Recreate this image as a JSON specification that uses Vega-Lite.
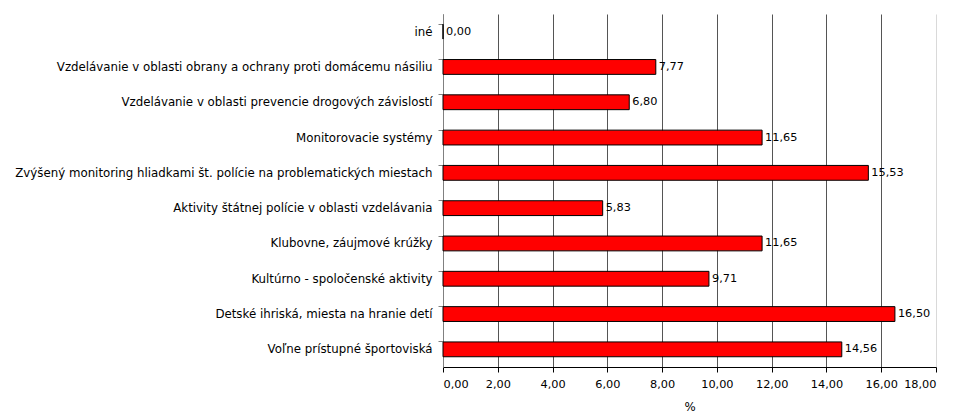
{
  "$schema": "https://vega.github.io/schema/vega-lite/v6.json",
  "width": 493,
  "height": 353,
  "autosize": {"type": "none"},
  "padding": {"left": 443, "top": 14, "right": 18, "bottom": 48},
  "background": "white",
  "config": {
    "view": {"stroke": null},
    "locale": {"number": {"decimal": ",", "thousands": " ", "grouping": [3], "currency": ["", " €"]}},
    "font": "DejaVu Sans"
  },
  "data": {
    "values": [
      {"kategoria": "iné", "hodnota": 0.00},
      {"kategoria": "Vzdelávanie v oblasti obrany a ochrany proti domácemu násiliu", "hodnota": 7.77},
      {"kategoria": "Vzdelávanie v oblasti prevencie drogových závislostí", "hodnota": 6.80},
      {"kategoria": "Monitorovacie systémy", "hodnota": 11.65},
      {"kategoria": "Zvýšený monitoring hliadkami št. polície na problematických miestach ", "hodnota": 15.53},
      {"kategoria": "Aktivity štátnej polície v oblasti vzdelávania", "hodnota": 5.83},
      {"kategoria": "Klubovne, záujmové krúžky", "hodnota": 11.65},
      {"kategoria": "Kultúrno - spoločenské aktivity", "hodnota": 9.71},
      {"kategoria": "Detské ihriská, miesta na hranie detí", "hodnota": 16.50},
      {"kategoria": "Voľne prístupné športoviská", "hodnota": 14.56}
    ]
  },
  "encoding": {
    "y": {
      "field": "kategoria",
      "type": "nominal",
      "sort": null,
      "scale": {"paddingInner": 0.58, "paddingOuter": 0.29},
      "axis": {
        "title": null,
        "labelFont": "DejaVu Sans",
        "labelFontSize": 11.8,
        "labelColor": "black",
        "labelPadding": 6,
        "labelLimit": 440,
        "domainColor": "#808080",
        "tickColor": "#808080",
        "tickSize": 5,
        "bandPosition": 0
      }
    },
    "x": {
      "field": "hodnota",
      "type": "quantitative",
      "scale": {"domain": [0, 18], "nice": false},
      "axis": {
        "title": "%",
        "titleFont": "DejaVu Sans",
        "titleFontSize": 11.8,
        "titleFontWeight": "normal",
        "titleColor": "black",
        "titlePadding": 12,
        "values": [0, 2, 4, 6, 8, 10, 12, 14, 16, 18],
        "format": ".2f",
        "labelFont": "DejaVu Sans",
        "labelFontSize": 11.3,
        "labelColor": "black",
        "labelPadding": 6,
        "domainColor": "black",
        "tickColor": "black",
        "tickSize": 5,
        "grid": true,
        "gridColor": {"condition": {"test": "datum.value == 18", "value": "#d9d9d9"}, "value": "#555555"},
        "gridOpacity": 1
      }
    }
  },
  "layer": [
    {
      "mark": {"type": "bar", "color": "#ff0000", "stroke": "black", "strokeWidth": 1}
    },
    {
      "mark": {"type": "text", "align": "left", "baseline": "middle", "dx": 3, "font": "DejaVu Sans", "fontSize": 11.3, "color": "black"},
      "encoding": {
        "text": {"field": "hodnota", "type": "quantitative", "format": ".2f"}
      }
    }
  ]
}
